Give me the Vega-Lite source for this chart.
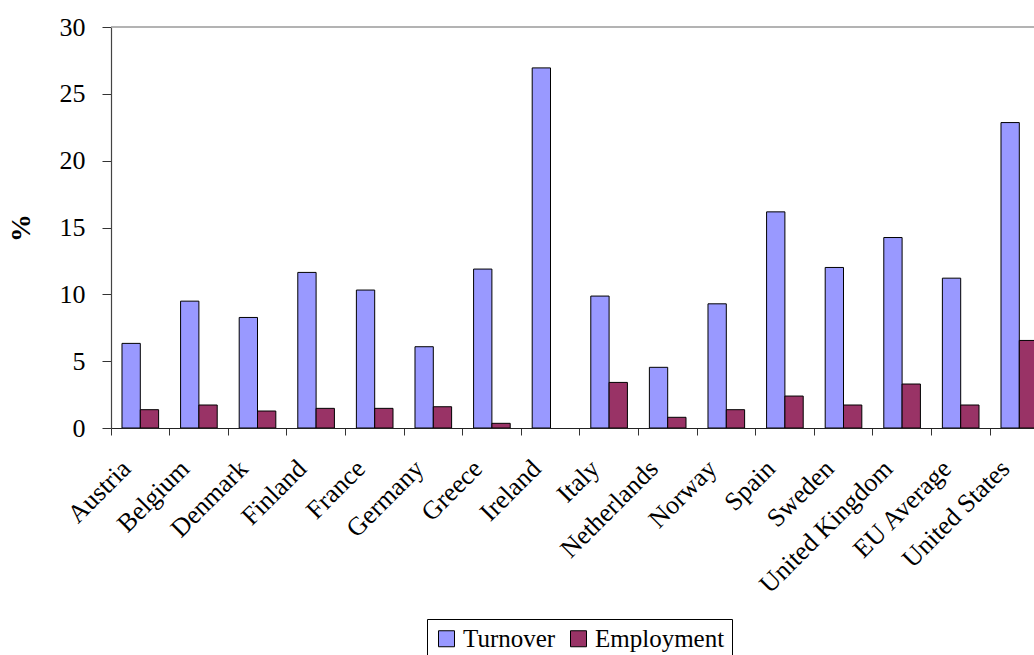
{
  "$schema": "https://vega.github.io/schema/vega-lite/v6.json",
  "width": 923,
  "height": 401,
  "autosize": {"type": "none"},
  "padding": {"left": 111, "top": 27, "right": 0, "bottom": 227},
  "config": {
    "view": {"stroke": null},
    "font": "Liberation Serif",
    "legend": {"labelFont": "Liberation Serif"}
  },
  "data": {
    "values": [
      {"country": "Austria", "series": "Turnover", "value": 6.33},
      {"country": "Austria", "series": "Employment", "value": 1.37},
      {"country": "Belgium", "series": "Turnover", "value": 9.49},
      {"country": "Belgium", "series": "Employment", "value": 1.72},
      {"country": "Denmark", "series": "Turnover", "value": 8.27},
      {"country": "Denmark", "series": "Employment", "value": 1.27},
      {"country": "Finland", "series": "Turnover", "value": 11.64},
      {"country": "Finland", "series": "Employment", "value": 1.47},
      {"country": "France", "series": "Turnover", "value": 10.32},
      {"country": "France", "series": "Employment", "value": 1.47},
      {"country": "Germany", "series": "Turnover", "value": 6.08},
      {"country": "Germany", "series": "Employment", "value": 1.59},
      {"country": "Greece", "series": "Turnover", "value": 11.89},
      {"country": "Greece", "series": "Employment", "value": 0.35},
      {"country": "Ireland", "series": "Turnover", "value": 26.94},
      {"country": "Italy", "series": "Turnover", "value": 9.87},
      {"country": "Italy", "series": "Employment", "value": 3.41},
      {"country": "Netherlands", "series": "Turnover", "value": 4.54},
      {"country": "Netherlands", "series": "Employment", "value": 0.8},
      {"country": "Norway", "series": "Turnover", "value": 9.29},
      {"country": "Norway", "series": "Employment", "value": 1.37},
      {"country": "Spain", "series": "Turnover", "value": 16.17},
      {"country": "Spain", "series": "Employment", "value": 2.39},
      {"country": "Sweden", "series": "Turnover", "value": 12.01},
      {"country": "Sweden", "series": "Employment", "value": 1.72},
      {"country": "United Kingdom", "series": "Turnover", "value": 14.25},
      {"country": "United Kingdom", "series": "Employment", "value": 3.29},
      {"country": "EU Average", "series": "Turnover", "value": 11.21},
      {"country": "EU Average", "series": "Employment", "value": 1.72},
      {"country": "United States", "series": "Turnover", "value": 22.85},
      {"country": "United States", "series": "Employment", "value": 6.55}
    ]
  },
  "layer": [
    {
      "data": {"values": [{"top": 30}]},
      "mark": {"type": "rule", "color": "#9a9a9a", "strokeWidth": 1.5},
      "encoding": {"y": {"field": "top", "type": "quantitative"}}
    },
    {
      "mark": {"type": "bar", "stroke": "black", "strokeWidth": 1, "clip": true},
      "encoding": {
        "x": {
          "field": "country",
          "type": "nominal",
          "sort": null,
          "scale": {"range": [0, 937.6], "paddingInner": 0, "paddingOuter": 0},
          "axis": {
            "title": null,
            "bandPosition": 0,
            "labelOffset": -23,
            "labelAngle": -45,
            "labelAlign": "right",
            "labelBaseline": "top",
            "labelFont": "Liberation Serif",
            "labelFontSize": 26,
            "labelColor": "black",
            "labelPadding": 20,
            "labelLimit": 400,
            "labelOverlap": false,
            "tickSize": 7,
            "tickColor": "#333333",
            "domainColor": "#222222",
            "domainWidth": 1.2
          }
        },
        "xOffset": {
          "field": "series",
          "type": "nominal",
          "sort": ["Turnover", "Employment"],
          "scale": {"paddingOuter": 0.6, "paddingInner": 0}
        },
        "y": {
          "field": "value",
          "type": "quantitative",
          "scale": {"domain": [0, 30], "nice": false},
          "axis": {
            "title": "%",
            "titleFont": "Liberation Serif",
            "titleFontSize": 28,
            "titleFontWeight": "bold",
            "titleColor": "black",
            "titlePadding": 24,
            "values": [0, 5, 10, 15, 20, 25, 30],
            "grid": false,
            "labelFont": "Liberation Serif",
            "labelFontSize": 26,
            "labelColor": "black",
            "labelPadding": 17,
            "tickSize": 9,
            "tickColor": "#333333",
            "domainColor": "#444444",
            "domainWidth": 1.2
          }
        },
        "color": {
          "field": "series",
          "type": "nominal",
          "sort": ["Turnover", "Employment"],
          "scale": {"domain": ["Turnover", "Employment"], "range": ["#9999FF", "#993366"]},
          "legend": {
            "orient": "none",
            "legendX": 316,
            "legendY": 592,
            "direction": "horizontal",
            "title": null,
            "strokeColor": "black",
            "fillColor": "white",
            "padding": 7,
            "symbolType": "square",
            "symbolSize": 256,
            "symbolStrokeColor": "black",
            "symbolStrokeWidth": 1,
            "symbolOpacity": 1,
            "labelFont": "Liberation Serif",
            "labelFontSize": 25,
            "labelColor": "black",
            "labelOffset": 4,
            "columnPadding": 10
          }
        }
      }
    }
  ]
}
